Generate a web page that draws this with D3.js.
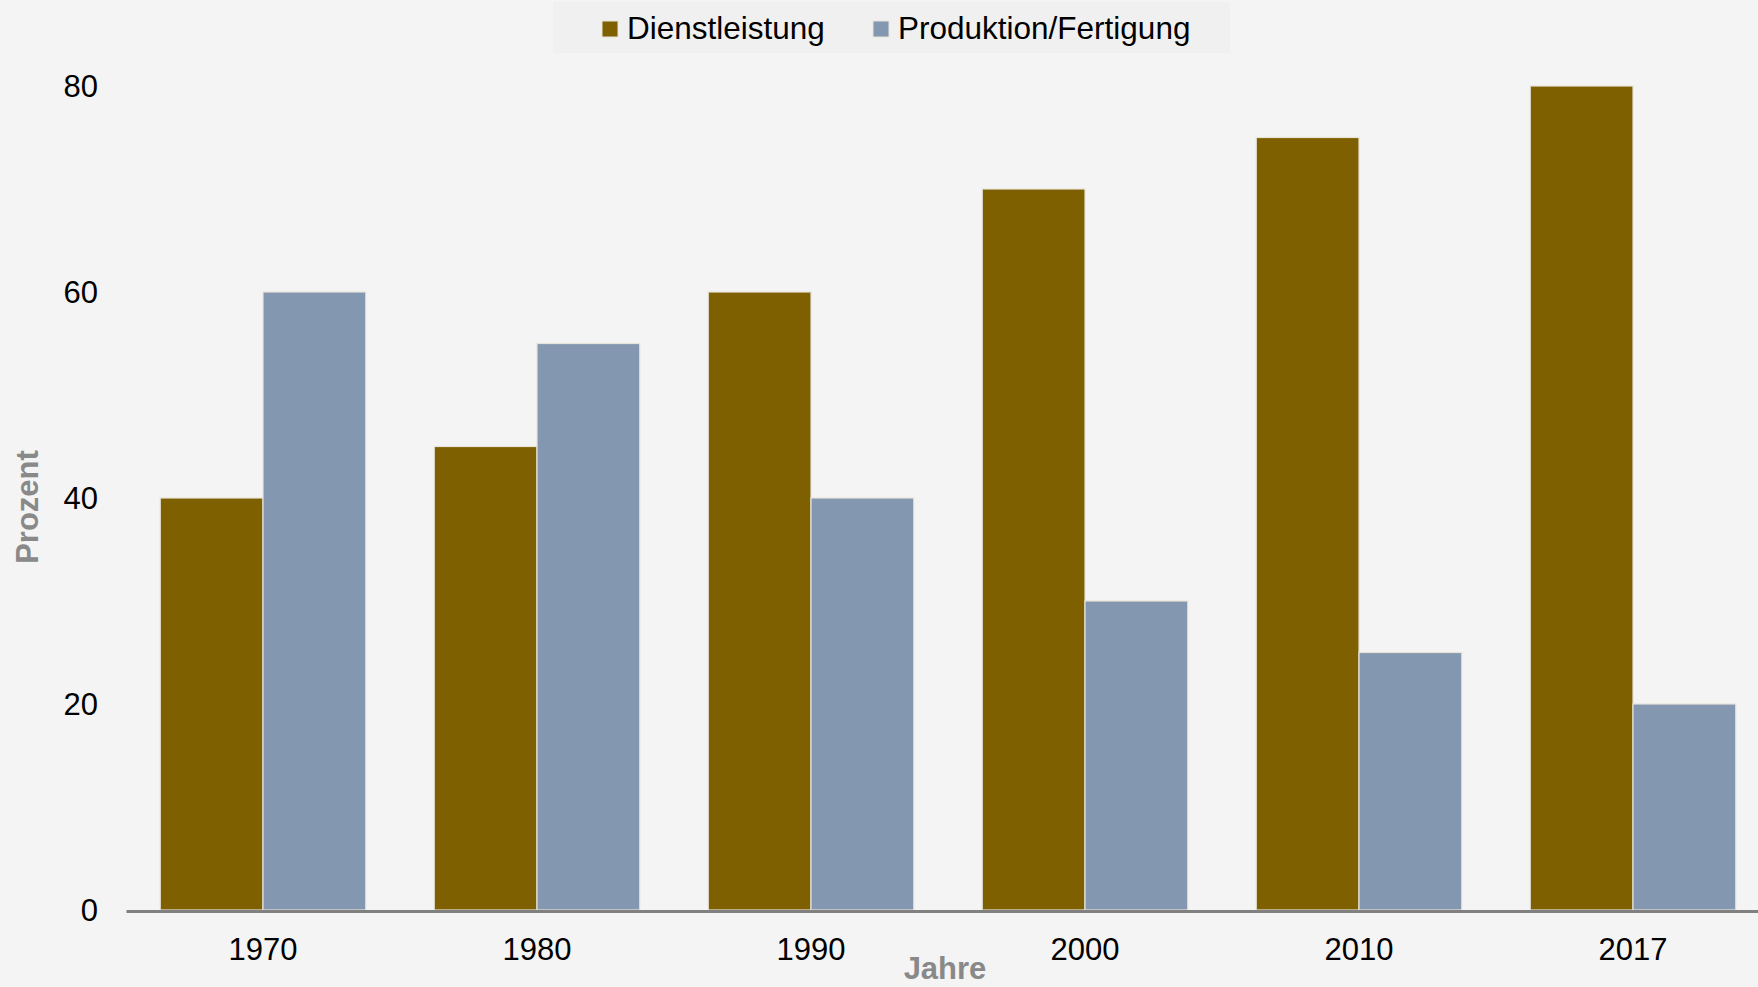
<!DOCTYPE html>
<html>
<head>
<meta charset="utf-8">
<script src="https://cdn.jsdelivr.net/npm/d3@7"></script>
<style>
  html, body { margin: 0; padding: 0; background: #f4f4f4; }
  svg { display: block; }
  text { font-family: "Liberation Sans", Arial, sans-serif; }
</style>
</head>
<body>
<script>
const years = ["1970", "1980", "1990", "2000", "2010", "2017"];
const seriesNames = ["Dienstleistung", "Produktion/Fertigung"];
const dienstleistung = [40, 45, 60, 70, 75, 80];
const produktion = [60, 55, 40, 30, 25, 20];
const yTicks = [0, 20, 40, 60, 80];
const colors = ["#7f6000", "#8497b0"];

const W = 1758, H = 987;
const svg = d3.select("body").append("svg").attr("width", W).attr("height", H);
svg.append("rect").attr("width", W).attr("height", H).attr("fill", "#f4f4f4");

const x0 = d3.scaleBand().domain(years).range([126, 1770]).paddingInner(0.25).paddingOuter(0.125);
const x1 = d3.scaleBand().domain(seriesNames).range([0, x0.bandwidth()]);
const y = d3.scaleLinear().domain([0, 80]).range([910, 86]);

const data = years.map((yr, i) => ({ year: yr, values: [dienstleistung[i], produktion[i]] }));

const groups = svg.append("g").selectAll("g").data(data).join("g")
  .attr("transform", d => `translate(${x0(d.year)},0)`);
groups.selectAll("rect").data(d => d.values.map((v, j) => ({ v, name: seriesNames[j], j })))
  .join("rect")
  .attr("x", d => x1(d.name))
  .attr("y", d => y(d.v))
  .attr("width", x1.bandwidth())
  .attr("height", d => y(0) - y(d.v))
  .attr("fill", d => colors[d.j])
  .attr("stroke", "#e6e3d8")
  .attr("stroke-width", 1.2);

// Y axis labels (no line, no ticks)
const yAxis = d3.axisLeft(y).tickValues(yTicks).tickSize(0).tickPadding(0);
const gy = svg.append("g").attr("transform", "translate(98,0)").call(yAxis);
gy.select(".domain").remove();
gy.selectAll("text").attr("font-size", 31).attr("fill", "#000")
  .attr("font-family", "Liberation Sans, Arial, sans-serif").attr("dy", "0.35em");

// X axis
const xAxis = d3.axisBottom(x0).tickSize(0).tickPadding(0);
const gx = svg.append("g").attr("transform", "translate(0,911)").call(xAxis);
gx.select(".domain").attr("stroke", "#808080").attr("stroke-width", 3);
gx.selectAll("text").attr("font-size", 31).attr("fill", "#000")
  .attr("font-family", "Liberation Sans, Arial, sans-serif")
  .attr("y", 49).attr("dy", 0);

// Axis titles
svg.append("text").attr("x", 945).attr("y", 979).attr("text-anchor", "middle")
  .attr("font-size", 31).attr("font-weight", "bold").attr("fill", "#898989").text("Jahre");
svg.append("text").attr("transform", "translate(38,507) rotate(-90)").attr("text-anchor", "middle")
  .attr("font-size", 31).attr("font-weight", "bold").attr("fill", "#898989").text("Prozent");

// Legend
const lg = svg.append("g");
lg.append("rect").attr("x", 553).attr("y", 2).attr("width", 677).attr("height", 51).attr("fill", "#f0f0f0");
const legendX = [602, 873];
seriesNames.forEach((name, i) => {
  lg.append("rect").attr("x", legendX[i]).attr("y", 21).attr("width", 16).attr("height", 16)
    .attr("fill", colors[i]).attr("stroke", "#e6e3d8").attr("stroke-width", 1);
  lg.append("text").attr("x", legendX[i] + 25).attr("y", 39).attr("font-size", 31.5)
    .attr("fill", "#000").text(name);
});
</script>
</body>
</html>
